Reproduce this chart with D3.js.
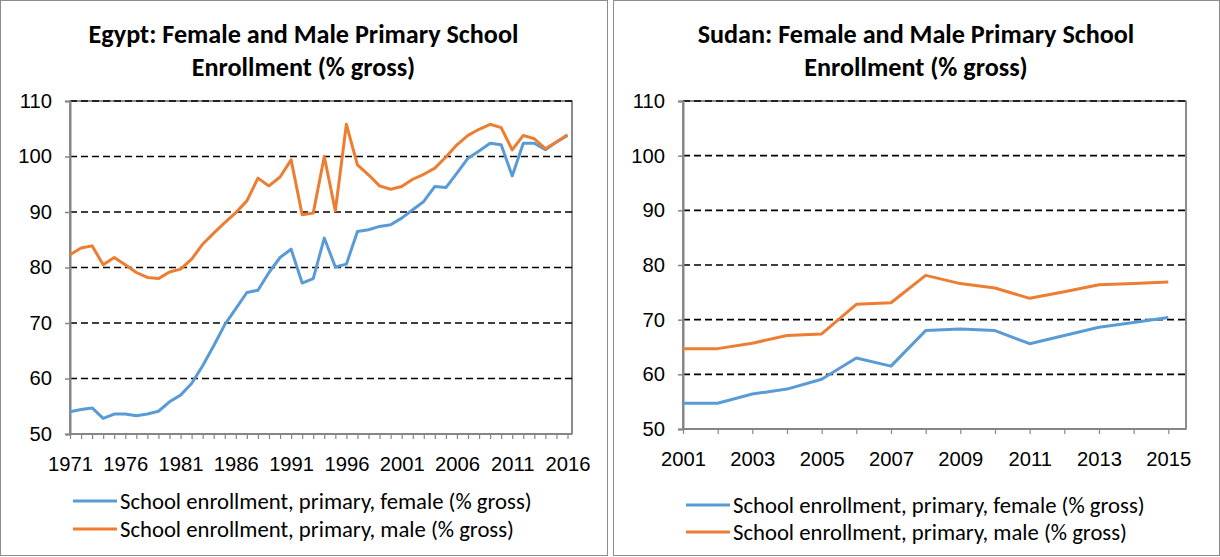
<!DOCTYPE html>
<html>
<head>
<meta charset="utf-8">
<script src="https://cdn.jsdelivr.net/npm/d3@7"></script>
<style>
  html, body { margin: 0; padding: 0; background: #fff; }
  svg { display: block; font-family: Calibri, Carlito, Lato, sans-serif; }
</style>
</head>
<body>
<svg id="chart" width="1220" height="557"></svg>
<script>
// ---- data ----
const egyptYears = d3.range(1971, 2017);
const egyptFemale = [54.0, 54.4, 54.7, 52.8, 53.6, 53.6, 53.3, 53.6, 54.1, 55.8,
  57.0, 59.1, 62.3, 65.9, 69.7, 72.6, 75.5, 75.9, 79.1, 81.8,
  83.3, 77.2, 78.0, 85.3, 80.1, 80.6, 86.5, 86.8, 87.4, 87.7,
  88.9, 90.4, 91.9, 94.6, 94.4, 97.0, 99.7, 101.0, 102.4, 102.1,
  96.5, 102.4, 102.4, 101.2, 102.6, 103.8];
const egyptMale = [82.3, 83.5, 83.9, 80.5, 81.8, 80.5, 79.1, 78.2, 78.0, 79.2,
  79.7, 81.5, 84.2, 86.2, 88.1, 89.9, 92.0, 96.1, 94.7, 96.3,
  99.4, 89.5, 89.8, 100.0, 90.2, 105.8, 98.5, 96.7, 94.7, 94.1,
  94.6, 95.9, 96.8, 97.9, 99.9, 102.1, 103.8, 104.9, 105.8, 105.2,
  101.2, 103.8, 103.2, 101.4, 102.6, 103.9];
const egyptTickLabels = [1971, 1976, 1981, 1986, 1991, 1996, 2001, 2006, 2011, 2016];

const sudanYears = d3.range(2001, 2016);
const sudanFemale = [54.7, 54.7, 56.4, 57.3, 59.1, 63.0, 61.5, 68.0, 68.3, 68.0, 65.6, 67.1, 68.6, 69.5, 70.4];
const sudanMale = [64.7, 64.7, 65.7, 67.1, 67.4, 72.8, 73.1, 78.1, 76.6, 75.8, 73.9, 75.1, 76.4, 76.6, 76.9];
const sudanTickLabels = [2001, 2003, 2005, 2007, 2009, 2011, 2013, 2015];

const yTicks = [50, 60, 70, 80, 90, 100, 110];
const seriesNames = ["School enrollment, primary, female (% gross)", "School enrollment, primary, male (% gross)"];
const seriesColors = ["#5B9BD5", "#ED7D31"];
const egyptTitle = ["Egypt: Female and Male Primary School", "Enrollment (% gross)"];
const sudanTitle = ["Sudan: Female and Male Primary School", "Enrollment (% gross)"];

const svg = d3.select("#chart");

// pick font sizes so text widths match the original rendering
function fitSize(sample, target, weight) {
  const t = svg.append("text").attr("font-size", 20).attr("font-weight", weight || "normal").text(sample);
  const w = t.node().getComputedTextLength();
  t.remove();
  return 20 * target / w;
}
const titleSize = fitSize(egyptTitle[0], 430, "bold");
const legendSize = fitSize(seriesNames[0], 412);
const tickSize = fitSize("1971", 41);

function drawPanel(cfg) {
  const g = svg.append("g");

  // outer frame
  g.append("rect")
    .attr("x", cfg.panelX + 0.5).attr("y", 0.5)
    .attr("width", cfg.panelW).attr("height", 555)
    .attr("fill", "#fff").attr("stroke", "#8c8c8c").attr("stroke-width", 1);

  // title
  const cx = cfg.panelX + cfg.panelW / 2;
  cfg.title.forEach((line, i) => {
    g.append("text")
      .attr("x", cx).attr("y", 43 + i * 33)
      .attr("text-anchor", "middle")
      .attr("font-weight", "bold")
      .attr("font-size", titleSize)
      .attr("fill", "#000")
      .text(line);
  });

  const x = d3.scaleLinear().domain(d3.extent(cfg.years)).range([cfg.plotL, cfg.xEnd]);
  const y = d3.scaleLinear().domain([50, 110]).range([cfg.plotB, cfg.plotT]);

  // plot border
  g.append("rect")
    .attr("x", cfg.plotL).attr("y", cfg.plotT)
    .attr("width", cfg.plotR - cfg.plotL).attr("height", cfg.plotB - cfg.plotT)
    .attr("fill", "none").attr("stroke", "#404040").attr("stroke-width", 1.2);

  // dashed gridlines
  g.append("g").selectAll("line")
    .data(yTicks.slice(1))
    .join("line")
    .attr("x1", cfg.plotL).attr("x2", cfg.plotR)
    .attr("y1", d => y(d)).attr("y2", d => y(d))
    .attr("stroke", "#000").attr("stroke-width", 1.6)
    .attr("stroke-dasharray", "7,4");

  // y axis
  const yAxis = g.append("g")
    .attr("transform", `translate(${cfg.plotL},0)`)
    .call(d3.axisLeft(y).tickValues(yTicks).tickSize(5).tickPadding(13));
  yAxis.select(".domain").attr("stroke", "#868686").attr("stroke-width", 2);
  yAxis.selectAll(".tick line").attr("stroke", "#868686").attr("stroke-width", 1.5);
  yAxis.selectAll(".tick text").attr("font-size", tickSize).attr("fill", "#000")
    .attr("font-family", null);

  // x axis
  const xAxis = g.append("g")
    .attr("transform", `translate(0,${cfg.plotB})`)
    .call(d3.axisBottom(x).tickValues(cfg.years).tickSize(5).tickPadding(18)
      .tickFormat(d => cfg.tickLabels.includes(d) ? String(d) : ""));
  xAxis.select(".domain").attr("stroke", "#868686").attr("stroke-width", 2)
    .attr("d", `M${cfg.plotL},0H${cfg.plotR}`);
  xAxis.selectAll(".tick line").attr("stroke", "#868686").attr("stroke-width", 1.2);
  xAxis.selectAll(".tick text").attr("font-size", tickSize).attr("fill", "#000")
    .attr("font-family", null);

  // lines
  const line = d3.line().x((d, i) => x(cfg.years[i])).y(d => y(d));
  cfg.series.forEach((vals, k) => {
    g.append("path")
      .datum(vals)
      .attr("d", line)
      .attr("fill", "none")
      .attr("stroke", seriesColors[k])
      .attr("stroke-width", 3)
      .attr("stroke-linejoin", "round");
  });

  // legend
  seriesNames.forEach((name, k) => {
    const ly = cfg.legendY[k];
    g.append("line")
      .attr("x1", cfg.legendX).attr("x2", cfg.legendX + 44)
      .attr("y1", ly).attr("y2", ly)
      .attr("stroke", seriesColors[k]).attr("stroke-width", 3);
    g.append("text")
      .attr("x", cfg.legendX + 47).attr("y", ly)
      .attr("dy", "0.35em")
      .attr("font-size", legendSize)
      .attr("fill", "#000")
      .text(name);
  });
}

drawPanel({
  panelX: 0, panelW: 607, title: egyptTitle,
  plotL: 70, plotR: 572, plotT: 101, plotB: 434, xEnd: 567.5,
  years: egyptYears, series: [egyptFemale, egyptMale], tickLabels: egyptTickLabels,
  legendX: 73, legendY: [501, 529]
});

drawPanel({
  panelX: 613, panelW: 606, title: sudanTitle,
  plotL: 683, plotR: 1186, plotT: 101, plotB: 429, xEnd: 1168.3,
  years: sudanYears, series: [sudanFemale, sudanMale], tickLabels: sudanTickLabels,
  legendX: 686, legendY: [505, 532]
});
</script>
</body>
</html>
